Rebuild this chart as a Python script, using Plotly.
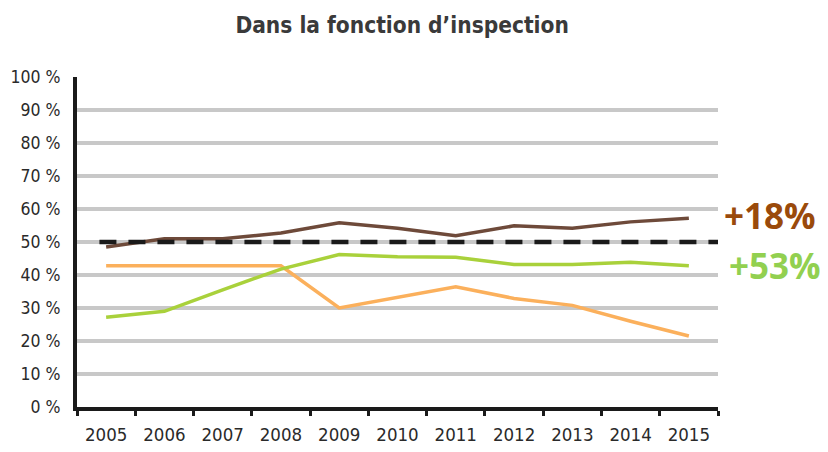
import plotly.graph_objects as go

# Données
annees = ['2005', '2006', '2007', '2008', '2009', '2010',
          '2011', '2012', '2013', '2014', '2015']
serie_brune = [48.5, 51, 51, 52.7, 55.8, 54.2, 51.9, 54.9, 54.2, 56.1, 57.2]
serie_verte = [27.2, 29, 35.5, 41.8, 46.2, 45.5, 45.4, 43.2, 43.2, 43.9, 42.8]
serie_orange = [42.8, 42.8, 42.8, 42.8, 30.0, 33.2, 36.4, 32.9, 30.8, 26.0, 21.5]
seuil = 50
ticks_y = [0, 10, 20, 30, 40, 50, 60, 70, 80, 90, 100]
labels_y = [f"{v} %" for v in ticks_y]

police = 'DejaVu Sans Condensed, Roboto Condensed, Liberation Sans, sans-serif'

fig = go.Figure()

for vals, col in [(serie_orange, '#fbb05c'),
                  (serie_verte, '#a9d13b'),
                  (serie_brune, '#6e4a3a')]:
    fig.add_trace(go.Scatter(
        x=annees, y=vals, mode='lines',
        line=dict(color=col, width=3.5),
        showlegend=False, hoverinfo='skip'
    ))

# Ligne pointillée à 50 %
fig.add_hline(y=seuil, x0=0.035, x1=1,
              line=dict(color='#1a1a1a', width=4.5, dash='17px,12px'))

# la page a une marge de 8px autour du graphique
fig.update_layout(
    width=828, height=452,
    plot_bgcolor='white', paper_bgcolor='white',
    margin=dict(l=69, r=118, t=69, b=53),
    title=dict(text="Dans la fonction d’inspection",
               x=0.476, xanchor='center', y=0.963, yanchor='middle',
               font=dict(family=police, size=22.5,
                         color='#3a3a3a', weight='bold')),
    xaxis=dict(
        type='category', range=[-0.5, 10.5], automargin=False,
        tickson='boundaries', ticks='outside', ticklen=5, tickwidth=3,
        tickcolor='#1a1a1a',
        showline=True, linecolor='#1a1a1a', linewidth=4,
        showgrid=False, ticklabelstandoff=8,
        tickfont=dict(family=police, size=18.5, color='#2a2a2a'),
    ),
    yaxis=dict(
        range=[0, 100], tickvals=ticks_y, ticktext=labels_y, automargin=False,
        showline=True, linecolor='#1a1a1a', linewidth=4,
        showgrid=True, gridcolor='#c8c8c8', gridwidth=4,
        zeroline=False, ticks='', ticklabelstandoff=9,
        tickfont=dict(family=police, size=17.5, color='#2a2a2a'),
    ),
    annotations=[
        dict(text='<b>+18%</b>', xref='paper', yref='paper',
             x=1.006, y=0.58, xanchor='left', yanchor='middle', showarrow=False,
             font=dict(family='Open Sans', size=35, color='#9a4a0b')),
        dict(text='<b>+53%</b>', xref='paper', yref='paper',
             x=1.014, y=0.43, xanchor='left', yanchor='middle', showarrow=False,
             font=dict(family='Open Sans', size=35, color='#92d050')),
    ]
)

fig.write_html("out.html")
